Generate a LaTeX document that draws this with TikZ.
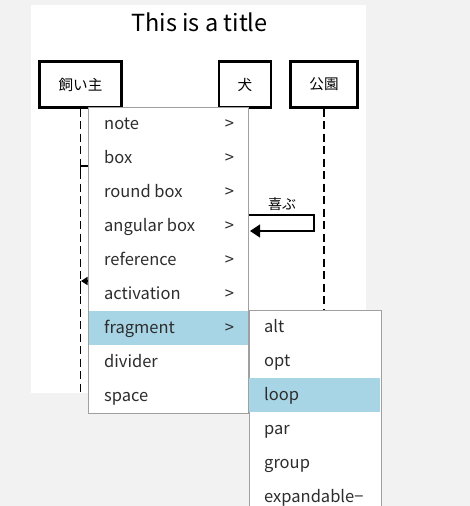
\documentclass[tikz,border=0pt]{standalone}
\usepackage{fontspec}
\setmainfont{Noto Sans CJK JP}
\usetikzlibrary{arrows.meta}
\definecolor{bggray}{RGB}{242,242,242}
\definecolor{menuborder}{RGB}{160,160,160}
\definecolor{hilite}{RGB}{168,213,229}
\definecolor{menutext}{RGB}{45,45,45}
\begin{document}
\begin{tikzpicture}[x=1pt,y=-1pt,
  actor/.style={draw=black,line width=2.4pt,fill=white,minimum height=46pt,inner sep=0pt,font=\fontsize{14.6}{16}\selectfont},
  lifeline/.style={draw=black,line width=1.8pt,dash pattern=on 8pt off 4.5pt},
  msg/.style={draw=black,line width=1.3pt},
  menubox/.style={draw=menuborder,line width=1pt,fill=white,inner sep=0pt,anchor=north west},
  item/.style={anchor=base west,inner sep=0pt,text=menutext,font=\fontsize{16.5}{18}\selectfont},
  chev/.style={anchor=center,inner sep=0pt,text=menutext,font=\fontsize{16.5}{18}\selectfont},
  lbl/.style={inner sep=0pt,font=\fontsize{14}{16}\selectfont}
]
\useasboundingbox (0,0) rectangle (470,506);
\fill[bggray] (0,0) rectangle (470,506);
\fill[white] (31,5) rectangle (366,393);

\node[font=\fontsize{23.5}{26}\selectfont,inner sep=0pt,anchor=base] (title) at (199.5,31.5) {This is a title};

\node[actor,minimum width=82pt] (owner) at (80.5,84.5) {飼い主};
\node[actor,minimum width=52pt] (dog) at (245,84.5) {犬};
\node[actor,minimum width=67pt] (park) at (324,84.5) {公園};

\coordinate (ownerEnd) at (80.5,393);
\coordinate (dogEnd) at (245,393);
\coordinate (parkEnd) at (324,393);
\draw[lifeline] (owner.south) -- (ownerEnd);
\draw[lifeline] (dog.south) -- (dogEnd);
\draw[lifeline] (park.south) -- (parkEnd);

% message from owner
\coordinate (m1a) at (80.5,178);
\coordinate (m1b) at (80.5,166);
\coordinate (m1c) at (160,166);
\draw[msg] (m1a) -- (m1b) -- (m1c);
% return message to owner
\coordinate (m2a) at (160,281);
\coordinate (m2b) at (81,281);
\coordinate (m2c) at (80.5,281);
\coordinate (m2d) at (80.5,294);
\draw[msg] (m2c) -- (m2d);
\draw[msg,-{Triangle[length=6.5pt,width=8pt]}] (m2a) -- (m2b);
% self message on dog
\coordinate (s1) at (245,215);
\coordinate (s2) at (314,215);
\coordinate (s3) at (314,231);
\coordinate (s4) at (250,231);
\draw[msg,-{Triangle[length=10pt,width=13pt]}] (s1) -- (s2) -- (s3) -- (s4);
\node[lbl] (joy) at (282,204) {喜ぶ};

% main menu
\node[menubox,minimum width=160pt,minimum height=306pt] (menu) at (88,107) {};
\fill[hilite] (88.5,311) rectangle (247.5,345);
\foreach \t [count=\i from 0] in {note,box,round box,angular box,reference,activation,fragment,divider,space}{
  \node[item] (mi\i) at (104,129.5+34*\i) {\t};
}
\foreach \i in {0,...,6}{
  \node[chev] (ch\i) at (229.5,125+34*\i) {>};
}

% sub menu
\node[menubox,minimum width=132pt,minimum height=220pt] (sub) at (248.5,310) {};
\fill[hilite] (249,378) rectangle (380,412);
\foreach \t [count=\i from 0] in {alt,opt,loop,par,group,expandable−}{
  \node[item] (si\i) at (264,332.5+34*\i) {\t};
}
\end{tikzpicture}
\end{document}
